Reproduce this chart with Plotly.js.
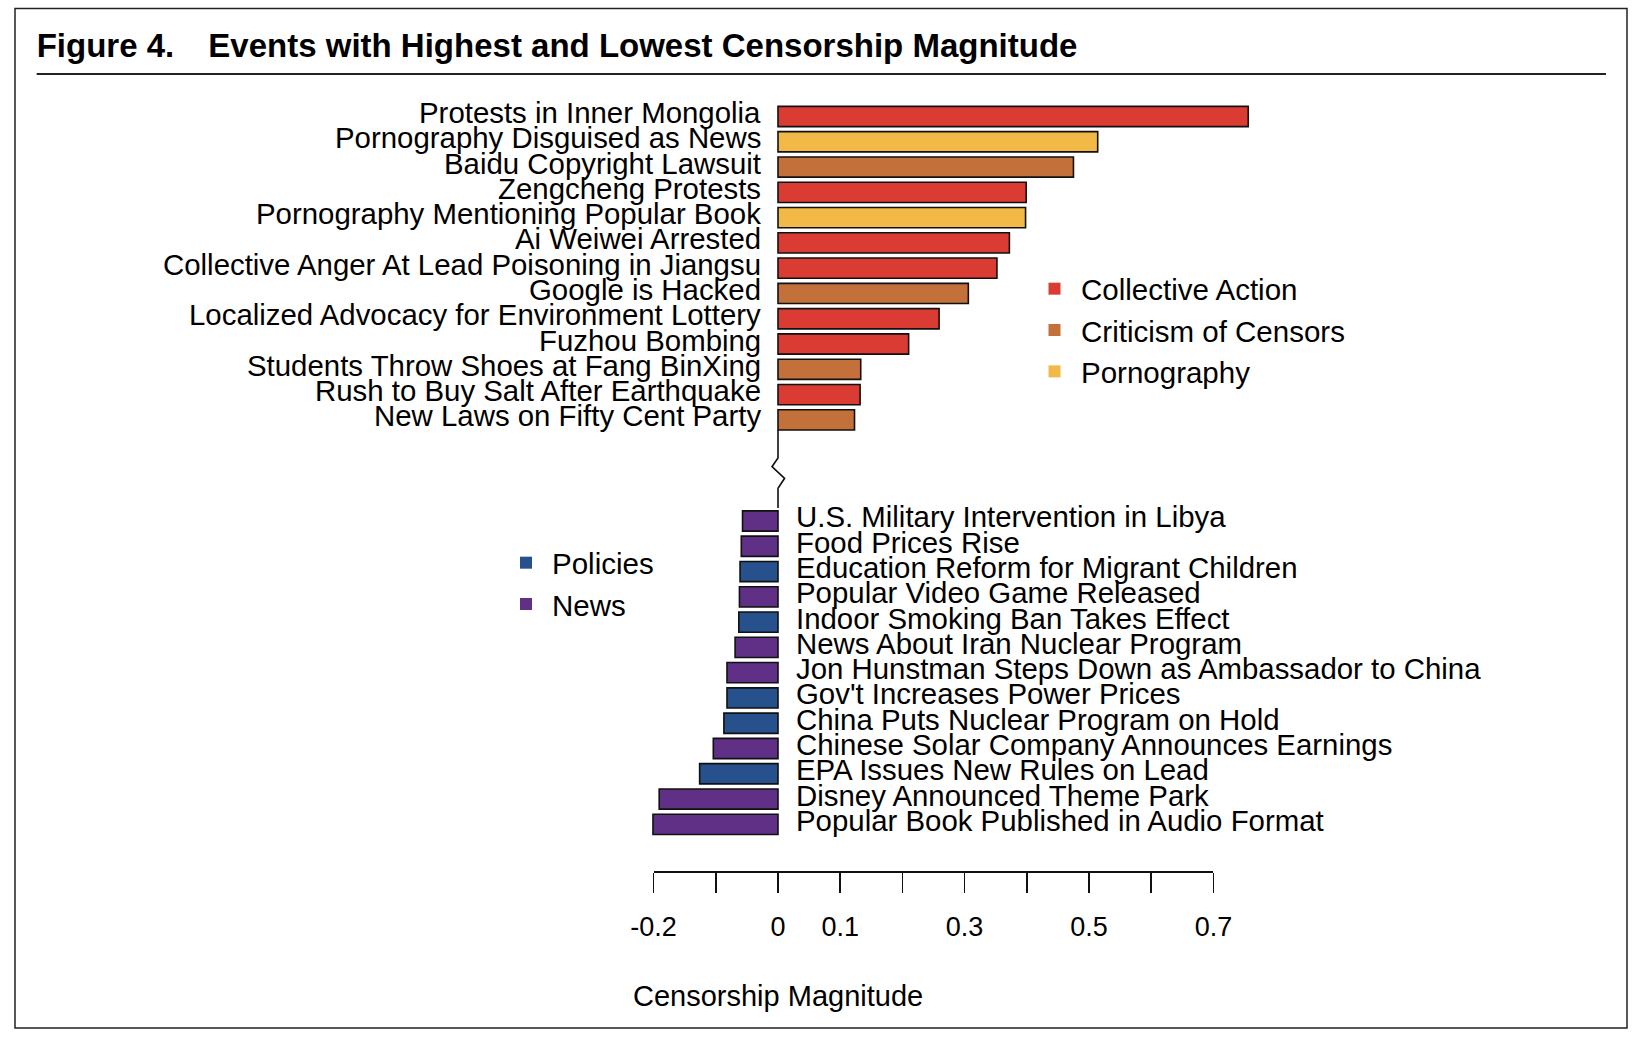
<!DOCTYPE html>
<html>
<head>
<meta charset="utf-8">
<script src="https://cdn.plot.ly/plotly-3.0.1.min.js"></script>
<style>html,body{margin:0;padding:0;background:#fff;}</style>
</head>
<body>
<div id="chart" style="width:1644px;height:1044px;"></div>
<script>
// ---------------- data ----------------
const topEvents = [
  "Protests in Inner Mongolia",
  "Pornography Disguised as News",
  "Baidu Copyright Lawsuit",
  "Zengcheng Protests",
  "Pornography Mentioning Popular Book",
  "Ai Weiwei Arrested",
  "Collective Anger At Lead Poisoning in Jiangsu",
  "Google is Hacked",
  "Localized Advocacy for Environment Lottery",
  "Fuzhou Bombing",
  "Students Throw Shoes at Fang BinXing",
  "Rush to Buy Salt After Earthquake",
  "New Laws on Fifty Cent Party"
];
const topValues = [0.756, 0.514, 0.475, 0.399, 0.398, 0.372, 0.352, 0.306, 0.259, 0.210, 0.133, 0.132, 0.123];
const topCategories = [
  "Collective Action", "Pornography", "Criticism of Censors", "Collective Action",
  "Pornography", "Collective Action", "Collective Action", "Criticism of Censors",
  "Collective Action", "Collective Action", "Criticism of Censors", "Collective Action",
  "Criticism of Censors"
];

const bottomEvents = [
  "U.S. Military Intervention in Libya",
  "Food Prices Rise",
  "Education Reform for Migrant Children",
  "Popular Video Game Released",
  "Indoor Smoking Ban Takes Effect",
  "News About Iran Nuclear Program",
  "Jon Hunstman Steps Down as Ambassador to China",
  "Gov't Increases Power Prices",
  "China Puts Nuclear Program on Hold",
  "Chinese Solar Company Announces Earnings",
  "EPA Issues New Rules on Lead",
  "Disney Announced Theme Park",
  "Popular Book Published in Audio Format"
];
const bottomValues = [-0.057, -0.059, -0.061, -0.062, -0.063, -0.069, -0.082, -0.082, -0.087, -0.104, -0.126, -0.191, -0.201];
const bottomCategories = [
  "News", "News", "Policies", "News", "Policies", "News", "News",
  "Policies", "Policies", "News", "Policies", "News", "News"
];

const topLegend = ["Collective Action", "Criticism of Censors", "Pornography"];
const bottomLegend = ["Policies", "News"];

const tickValues = [-0.2, -0.1, 0, 0.1, 0.2, 0.3, 0.4, 0.5, 0.6, 0.7];
const tickLabels = ["-0.2", "", "0", "0.1", "", "0.3", "", "0.5", "", "0.7"];
const xTitle = "Censorship Magnitude";
const chartTitle = "Figure 4.\u00a0\u00a0\u00a0\u2009Events with Highest and Lowest Censorship Magnitude";

// ---------------- styles ----------------
const colors = {
  "Collective Action": "#DA3C33",
  "Criticism of Censors": "#C4703B",
  "Pornography": "#F2B946",
  "Policies": "#26518D",
  "News": "#603086"
};
const FONT = "Liberation Sans, Arial, Helvetica, sans-serif";
const W = 1644, H = 1044, MB = 173;
const PH = H - MB;              // plot height in px
const GAP = 3;                  // empty slots between the two groups
const row0 = 116.5, pitch = 25.28;
const zeroPx = 778, unitPx = 622;

const topSlots = topEvents.map((_, i) => i);
const bottomSlots = bottomEvents.map((_, i) => topEvents.length + GAP + i);

const barStyle = {width: 0.8, line: {color: "#111", width: 1.6}};

const traces = [
  {
    type: "bar", orientation: "h",
    x: topValues, y: topSlots, width: barStyle.width,
    marker: {color: topCategories.map(c => colors[c]), line: barStyle.line},
    showlegend: false, hoverinfo: "x+text", text: topEvents, textposition: "none"
  },
  {
    type: "bar", orientation: "h",
    x: bottomValues, y: bottomSlots, width: barStyle.width,
    marker: {color: bottomCategories.map(c => colors[c]), line: barStyle.line},
    showlegend: false, hoverinfo: "x+text", text: bottomEvents, textposition: "none"
  },
  // carrier for the visible magnitude axis
  {type: "scatter", x: [null], y: [null], xaxis: "x2", yaxis: "y", showlegend: false, hoverinfo: "skip"}
];
topLegend.forEach(name => traces.push({
  type: "scatter", mode: "markers", x: [null], y: [null], name: name,
  marker: {symbol: "square", size: 12, color: colors[name]},
  legend: "legend", showlegend: true, hoverinfo: "skip"
}));
bottomLegend.forEach(name => traces.push({
  type: "scatter", mode: "markers", x: [null], y: [null], name: name,
  marker: {symbol: "square", size: 12, color: colors[name]},
  legend: "legend2", showlegend: true, hoverinfo: "skip"
}));

const labelFont = {family: FONT, size: 29.4, color: "#000"};
const annotations = [];
topEvents.forEach((t, i) => annotations.push({
  x: 0, y: topSlots[i], xref: "x", yref: "y", text: t, showarrow: false,
  xanchor: "right", yanchor: "middle", xshift: -15, yshift: 4, font: labelFont
}));
bottomEvents.forEach((t, i) => annotations.push({
  x: 0, y: bottomSlots[i], xref: "x", yref: "y", text: t, showarrow: false,
  xanchor: "left", yanchor: "middle", xshift: 16, yshift: 4, font: labelFont
}));

// y <-> px helpers for the broken zero line
const s = px => (px - row0) / pitch;
const dx = px => px / unitPx;
const zig = "M 0," + s(430) + " L 0," + s(458) + " L " + dx(-6) + "," + s(466.7) +
            " L " + dx(6.6) + "," + s(478.3) + " L 0," + s(488.3) + " L 0," + s(508);

const py = px => 1 - px / PH;   // paper y from px

// axis title centred on the zero of the magnitude scale
annotations.push({
  x: 0, xref: "x", y: py(996), yref: "paper", text: xTitle, showarrow: false,
  xanchor: "center", yanchor: "middle", font: {family: FONT, size: 29, color: "#000"}
});

const layout = {
  width: W, height: H,
  margin: {l: 0, r: 0, t: 0, b: MB, pad: 0},
  paper_bgcolor: "#fff", plot_bgcolor: "rgba(0,0,0,0)",
  font: {family: FONT, color: "#000"},
  title: {
    text: chartTitle, xref: "container", yref: "container",
    x: 36.7 / W, xanchor: "left", y: 1 - 45.5 / H, yanchor: "middle",
    font: {family: FONT, size: 33, weight: "bold", color: "#000"}
  },
  xaxis: {
    domain: [0, 1], range: [-zeroPx / unitPx, (W - zeroPx) / unitPx],
    visible: false, fixedrange: true
  },
  xaxis2: {
    domain: [(zeroPx - 0.2 * unitPx) / W, (zeroPx + 0.7 * unitPx) / W],
    range: [-0.2, 0.7], anchor: "y",
    showline: true, linecolor: "#111", linewidth: 1.5,
    ticks: "outside", ticklen: 20, tickwidth: 1.5, tickcolor: "#111",
    tickmode: "array", tickvals: tickValues, ticktext: tickLabels,
    tickfont: {family: FONT, size: 27, color: "#000"}, ticklabelstandoff: 11,
    showgrid: false, zeroline: false, fixedrange: true
  },
  yaxis: {
    domain: [0, 1], range: [s(PH), s(0)], visible: false, fixedrange: true
  },
  legend: {
    x: 1028 / W, xanchor: "left", y: py(263), yanchor: "top",
    font: {family: FONT, size: 29.5, color: "#000"}, itemwidth: 43,
    bgcolor: "rgba(0,0,0,0)", borderwidth: 0, tracegroupgap: 0,
    itemclick: false, itemdoubleclick: false
  },
  legend2: {
    x: 500 / W, xanchor: "left", y: py(537), yanchor: "top",
    font: {family: FONT, size: 29.5, color: "#000"}, itemwidth: 42,
    bgcolor: "rgba(0,0,0,0)", borderwidth: 0, tracegroupgap: 0,
    itemclick: false, itemdoubleclick: false
  },
  bargap: 0,
  annotations: annotations,
  shapes: [
    // outer frame
    {type: "rect", xref: "paper", yref: "paper", x0: 15 / W, x1: 1627 / W,
     y0: py(1028), y1: py(8.5), line: {color: "#222", width: 1.5}},
    // rule under the title
    {type: "line", xref: "paper", yref: "paper", x0: 36.7 / W, x1: 1606 / W,
     y0: py(74), y1: py(74), line: {color: "#222", width: 2}},
    // broken zero axis between the groups
    {type: "path", xref: "x", yref: "y", path: zig, line: {color: "#111", width: 1.6}}
  ]
};

Plotly.newPlot("chart", traces, layout, {displayModeBar: false, staticPlot: true});
</script>
</body>
</html>
